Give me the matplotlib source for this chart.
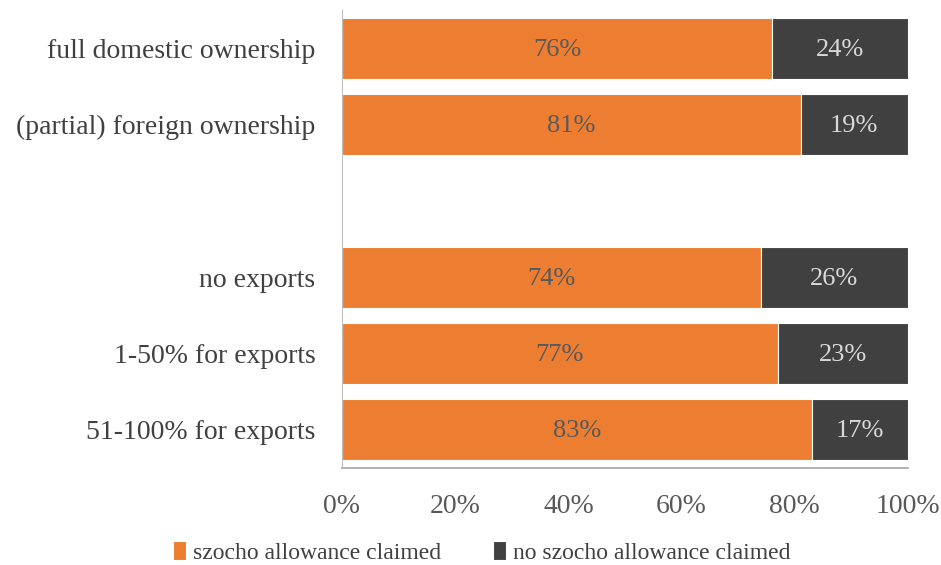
import matplotlib.pyplot as plt
import numpy as np

# data (top to bottom), empty row is the gap between the two groups
categories = ['full domestic ownership', '(partial) foreign ownership', '',
              'no exports', '1-50% for exports', '51-100% for exports']
claimed = [76, 81, None, 74, 77, 83]
not_claimed = [24, 19, None, 26, 23, 17]
series_names = ['szocho allowance claimed', 'no szocho allowance claimed']
ticks = [0, 20, 40, 60, 80, 100]

plt.rcParams['font.family'] = ['Liberation Serif', 'DejaVu Serif']

orange = '#ED7D31'
dark = '#404040'

fig = plt.figure(figsize=(9.41, 5.65), dpi=100)
ax = fig.add_axes([0.3634, 0.1717, 0.6016, 0.8106])

pos = np.arange(len(categories))
for i, (a, b) in enumerate(zip(claimed, not_claimed)):
    if a is None:
        continue
    ax.barh(pos[i], a, height=0.8, color=orange, edgecolor='white', linewidth=0.8,
            label=series_names[0] if i == 0 else None)
    ax.barh(pos[i], b, left=a, height=0.8, color=dark, edgecolor='white', linewidth=0.8,
            label=series_names[1] if i == 0 else None)
    ax.text(a / 2, pos[i] + 0.02, f'{a}%', ha='center', va='center', fontsize=19, color='#595959')
    ax.text(a + b / 2, pos[i] + 0.02, f'{b}%', ha='center', va='center', fontsize=19, color='#D9D9D9')

ax.set_ylim(len(categories) - 0.5, -0.5)
ax.set_xlim(0, 100)
ax.set_yticks(pos)
ax.set_yticklabels(categories, fontsize=20, color='#404040')
ax.set_xticks(ticks)
ax.set_xticklabels([f'{t}%' for t in ticks], fontsize=20, color='#595959')
ax.tick_params(axis='both', length=0)
ax.tick_params(axis='y', pad=19)
ax.tick_params(axis='x', pad=19)

for s in ['top', 'right']:
    ax.spines[s].set_visible(False)
ax.spines['left'].set_color('#BFBFBF')
ax.spines['bottom'].set_color('#A6A6A6')
ax.spines['bottom'].set_linewidth(1.2)

fig.legend(loc='lower center', bbox_to_anchor=(0.512, -0.035), ncol=2, frameon=False,
           fontsize=17, handlelength=0.55, handleheight=0.9, handletextpad=0.3,
           columnspacing=2.2, labelcolor='#404040')

fig.savefig('out.png', dpi=100)
